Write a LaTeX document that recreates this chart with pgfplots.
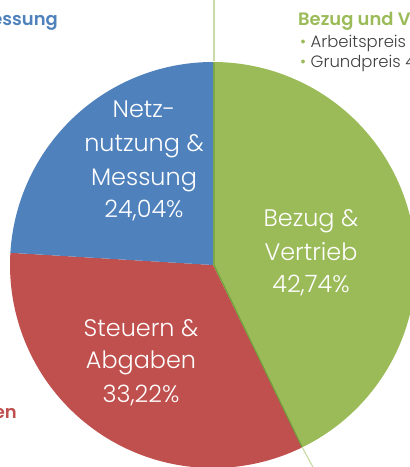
\documentclass[border=0pt]{standalone}
\usepackage{fontspec}
\setmainfont{Poppins}[UprightFont=* Light, BoldFont=* SemiBold]
\usepackage{pgfplots}
\pgfplotsset{compat=1.18}
\definecolor{pblue}{HTML}{4F81BD}
\definecolor{pred}{HTML}{C0504D}
\definecolor{pgreen}{HTML}{9BBB59}
\definecolor{pdkgreen}{HTML}{6F9E3C}
\definecolor{plgreen}{HTML}{C9DCA6}
\definecolor{ptext}{HTML}{404040}
% shares in percent
\def\pGreen{42.74}
\def\pRed{33.22}
\def\pBlue{24.04}
\begin{document}
\begin{tikzpicture}
\pgfmathsetmacro{\aA}{90}
\pgfmathsetmacro{\aB}{90-3.6*\pGreen}
\pgfmathsetmacro{\aC}{\aB-3.6*\pRed}
\pgfmathsetmacro{\aD}{\aC-3.6*\pBlue}
\begin{axis}[
  scale only axis, width=410bp, height=467bp,
  xmin=0, xmax=410, ymin=0, ymax=467,
  hide axis, clip=true,
]
\addplot[fill=pgreen, draw=none, domain=\aB:\aA, samples=120, variable=\t]
  ({213+203*cos(\t)},{202+203*sin(\t)}) -- (axis cs:213,202) -- cycle;
\addplot[fill=pred, draw=none, domain=\aC:\aB, samples=120, variable=\t]
  ({213+203*cos(\t)},{202+203*sin(\t)}) -- (axis cs:213,202) -- cycle;
\addplot[fill=pblue, draw=none, domain=\aD:\aC, samples=120, variable=\t]
  ({213+203*cos(\t)},{202+203*sin(\t)}) -- (axis cs:213,202) -- cycle;
% dark edge of green slice
\addplot[pdkgreen, line width=1.1pt] coordinates {(214,404) (214,202) (302,20)};
% leader lines
\addplot[plgreen, line width=1.2pt] coordinates {(214,467) (214,406)};
\addplot[plgreen, line width=1.2pt] coordinates {(302,20) (314,-2)};
% inner labels
\begin{scope}[every node/.style={text=white, font=\fontsize{24}{30}\selectfont, inner sep=0pt, anchor=base}]
\node at (axis cs:144,349) {Netz-};
\node at (axis cs:144,315) {nutzung \&};
\node at (axis cs:144,281) {Messung};
\node at (axis cs:144,249) {24,04\%};
\node at (axis cs:311,240) {Bezug \&};
\node at (axis cs:311,206) {Vertrieb};
\node at (axis cs:311,174) {42,74\%};
\node at (axis cs:141,130) {Steuern \&};
\node at (axis cs:141,98) {Abgaben};
\node at (axis cs:141,64) {33,22\%};
\end{scope}
% outer labels
\node[anchor=base east, inner sep=0pt, text=pblue, font=\fontsize{18}{20}\selectfont\bfseries] at (axis cs:58,441) {Netznutzung \& Messung};
\node[anchor=base east, inner sep=0pt, text=pred, font=\fontsize{18}{20}\selectfont\bfseries] at (axis cs:17,48) {Steuern \& Abgaben};
\node[anchor=base west, inner sep=0pt, text=pgreen, font=\fontsize{18}{20}\selectfont\bfseries] at (axis cs:298,441) {Bezug und Vertrieb};
\node[anchor=base west, inner sep=0pt, text=ptext, font=\fontsize{16.5}{20}\selectfont] at (axis cs:300,419) {\textcolor{pgreen}{•} Arbeitspreis 38,2\%};
\node[anchor=base west, inner sep=0pt, text=ptext, font=\fontsize{16.5}{20}\selectfont] at (axis cs:300,399) {\textcolor{pgreen}{•} Grundpreis 4,5\%};
\end{axis}
\end{tikzpicture}
\end{document}
